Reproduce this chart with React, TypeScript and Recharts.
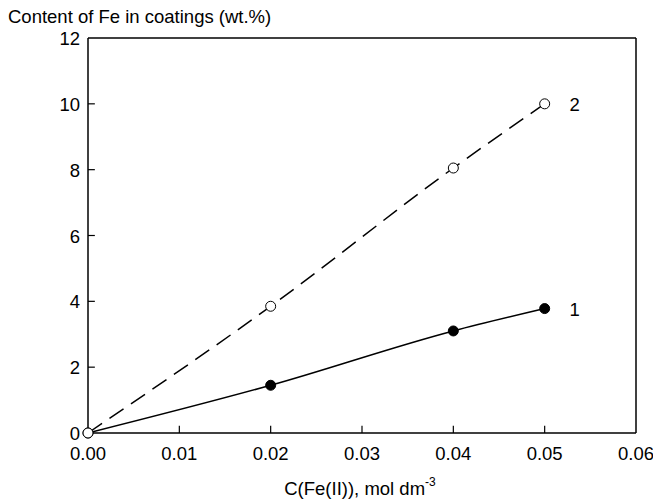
import React from "react";
import { LineChart, Line, XAxis, YAxis, ReferenceLine } from "recharts";

const concentrations = [0, 0.02, 0.04, 0.05];
const feCurve1 = [0, 1.45, 3.1, 3.78];
const feCurve2 = [0, 3.85, 8.05, 10.0];
const xTicks = [0, 0.01, 0.02, 0.03, 0.04, 0.05, 0.06];
const yTicks = [0, 2, 4, 6, 8, 10, 12];
const curveNames = ["1", "2"];

const data = concentrations.map((c, i) => ({
  c,
  s1: feCurve1[i],
  s2: feCurve2[i],
}));

const FONT = "'Liberation Sans', Arial, sans-serif";
const INK = "#000";
const FS = 18.5;
// inward tick length, in data units (~7px at this size)
const X_TICK_LEN = 0.22;
const Y_TICK_LEN = 0.00075;

function XTick(props: any) {
  const { x, y, payload } = props;
  return (
    <text x={x} y={y + 27} textAnchor="middle" fontSize={FS} fontFamily={FONT} fill={INK}>
      {Number(payload.value).toFixed(2)}
    </text>
  );
}

function YTick(props: any) {
  const { x, y, payload } = props;
  return (
    <text x={x - 8} y={y + 7} textAnchor="end" fontSize={FS} fontFamily={FONT} fill={INK}>
      {payload.value}
    </text>
  );
}

function endLabel(name: string) {
  return (props: any) => {
    const { x, y, index } = props;
    if (index !== concentrations.length - 1) return null;
    return (
      <text x={x + 30} y={y + 7} textAnchor="middle" fontSize={FS} fontFamily={FONT} fill={INK}>
        {name}
      </text>
    );
  };
}

export default function App() {
  return (
    <div style={{ position: "absolute", left: 0, top: 0, width: 653, height: 499, background: "#fff" }}>
      <LineChart
        width={653}
        height={499}
        data={data}
        margin={{ top: 38, right: 17, bottom: 0, left: 48 }}
      >
        <XAxis
          dataKey="c"
          type="number"
          domain={[0, 0.06]}
          ticks={xTicks}
          tick={<XTick />}
          tickLine={false}
          tickSize={0}
          tickMargin={0}
          axisLine={{ stroke: INK, strokeWidth: 1.5 }}
          height={66}
        />
        <YAxis
          type="number"
          domain={[0, 12]}
          ticks={yTicks}
          tick={<YTick />}
          tickLine={false}
          tickSize={0}
          tickMargin={0}
          axisLine={{ stroke: INK, strokeWidth: 1.5 }}
          width={40}
        />
        <ReferenceLine y={12} stroke={INK} strokeWidth={1.5} />
        <ReferenceLine x={0.06} stroke={INK} strokeWidth={1.5} />
        {xTicks.slice(1, -1).map((t) => (
          <ReferenceLine
            key={`xt-${t}`}
            segment={[{ x: t, y: 0 }, { x: t, y: X_TICK_LEN }]}
            stroke={INK}
            strokeWidth={1.2}
          />
        ))}
        {yTicks.slice(1, -1).map((t) => (
          <ReferenceLine
            key={`yt-${t}`}
            segment={[{ x: 0, y: t }, { x: Y_TICK_LEN, y: t }]}
            stroke={INK}
            strokeWidth={1.2}
          />
        ))}
        <Line
          dataKey="s1"
          type="monotone"
          stroke={INK}
          strokeWidth={1.5}
          dot={{ r: 5, fill: INK, stroke: INK, strokeWidth: 1 }}
          label={endLabel(curveNames[0])}
          isAnimationActive={false}
        />
        <Line
          dataKey="s2"
          type="monotone"
          stroke={INK}
          strokeWidth={1.5}
          strokeDasharray="17 9"
          dot={{ r: 5, fill: "#fff", stroke: INK, strokeWidth: 1, strokeDasharray: "0" }}
          label={endLabel(curveNames[1])}
          isAnimationActive={false}
        />
        <text x={8} y={23} fontSize={FS} fontFamily={FONT} fill={INK}>
          Content of Fe in coatings (wt.%)
        </text>
        <text x={360} y={495} textAnchor="middle" fontSize={FS} fontFamily={FONT} fill={INK}>
          C(Fe(II)), mol dm
          <tspan dy={-9} fontSize={12}>-3</tspan>
        </text>
      </LineChart>
    </div>
  );
}
